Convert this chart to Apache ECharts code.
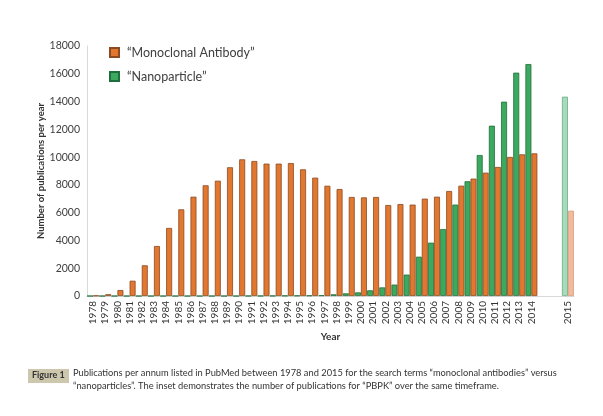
<!DOCTYPE html>
<html>
<head>
<meta charset="utf-8">
<script src="https://cdn.jsdelivr.net/npm/echarts@6/dist/echarts.min.js"></script>
<style>html,body{margin:0;padding:0;background:#fff;}#c{width:603px;height:416px;}</style>
</head>
<body>
<div id="c"></div>
<script>
const years = ['1978','1979','1980','1981','1982','1983','1984','1985','1986','1987','1988','1989','1990','1991','1992','1993','1994','1995','1996','1997','1998','1999','2000','2001','2002','2003','2004','2005','2006','2007','2008','2009','2010','2011','2012','2013','2014'];
const insetYear = '2015';
const monoclonal = [30,130,430,1100,2210,3600,4900,6240,7150,7970,8300,9270,9840,9720,9530,9530,9570,9120,8520,7940,7700,7130,7100,7130,6550,6620,6580,7010,7150,7560,7940,8450,8880,9290,10010,10200,10270];
const nanoparticle = [0,0,0,0,0,0,0,0,0,0,0,0,0,5,10,15,25,30,40,55,120,190,260,410,620,820,1540,2830,3840,4820,6580,8260,10150,12260,13990,16080,16700];
const inset2015 = { monoclonal: 6140, nanoparticle: 14350 };
const yTicks = [0,2000,4000,6000,8000,10000,12000,14000,16000,18000];

const categories = years.concat(['', '', insetYear]);
const font = 'Lato, "Open Sans", sans-serif';

function buildData(values, insetVal, insetStyle) {
  return values.concat([null, null, { value: insetVal, itemStyle: insetStyle }]);
}

const chart = echarts.init(document.getElementById('c'), null, { renderer: 'canvas' });
chart.setOption({
  backgroundColor: '#ffffff',
  animation: false,
  textStyle: { fontFamily: font },
  grid: { left: 87, right: 29, top: 46, bottom: 120, containLabel: false },
  legend: {
    orient: 'vertical', left: 104, top: 41,
    itemWidth: 9, itemHeight: 9, itemGap: 11,
    icon: 'rect',
    data: ['\u201CMonoclonal Antibody\u201D', '\u201CNanoparticle\u201D'],
    textStyle: { fontSize: 12.5, color: '#404040', fontFamily: font, padding: [0, 0, 0, 3] }
  },
  xAxis: {
    type: 'category', data: categories,
    name: 'Year', nameLocation: 'middle', nameGap: 36, nameMoveOverlap: false,
    nameTextStyle: { fontSize: 10, fontWeight: 'bold', color: '#333' },
    axisLine: { show: true, lineStyle: { color: '#d9d9d9', width: 1 } },
    axisTick: { show: false },
    axisLabel: { rotate: 90, fontSize: 10, color: '#333', margin: 5, interval: 0 }
  },
  yAxis: {
    type: 'value', min: yTicks[0], max: yTicks[yTicks.length - 1], interval: yTicks[1] - yTicks[0],
    name: 'Number of publications per year', nameLocation: 'middle', nameGap: 41, nameRotate: 90, nameMoveOverlap: false,
    nameTextStyle: { fontSize: 9.5, fontWeight: 'bold', color: '#333' },
    axisLine: { show: true, lineStyle: { color: '#d9d9d9', width: 1 } },
    axisTick: { show: false },
    splitLine: { show: false },
    axisLabel: { fontSize: 10.5, color: '#404040', margin: 7, formatter: function (v) { return String(v); } }
  },
  series: [
    {
      name: '\u201CNanoparticle\u201D', type: 'bar',
      barGap: '0%', barCategoryGap: '2%',
      itemStyle: { color: '#3BAA5E', borderColor: '#1f6e3b', borderWidth: 0.8 },
      data: buildData(nanoparticle, inset2015.nanoparticle, { color: '#A8DBBB', borderColor: '#6aab84', borderWidth: 0.8 })
    },
    {
      name: '\u201CMonoclonal Antibody\u201D', type: 'bar',
      barGap: '0%', barCategoryGap: '2%',
      itemStyle: { color: '#E2772F', borderColor: '#8a4a22', borderWidth: 0.8 },
      data: buildData(monoclonal, inset2015.monoclonal, { color: '#F3BA9C', borderColor: '#d89a7a', borderWidth: 0.8 })
    }
  ],
  graphic: [
    { type: 'rect', left: 28, top: 369, shape: { width: 41, height: 14 }, style: { fill: '#cdc7ad' } },
    { type: 'text', left: 32, top: 371, style: { text: 'Figure 1', fontSize: 9, fontWeight: 'bold', fill: '#333', fontFamily: font } },
    { type: 'text', left: 73, top: 366, style: {
      text: 'Publications per annum listed in PubMed between 1978 and 2015 for the search terms \u201Cmonoclonal antibodies\u201D versus\n\u201Cnanoparticles\u201D. The inset demonstrates the number of publications for \u201CPBPK\u201D over the same timeframe.',
      fontSize: 9.3, lineHeight: 13, fill: '#333', fontFamily: font } }
  ]
});
</script>
</body>
</html>
